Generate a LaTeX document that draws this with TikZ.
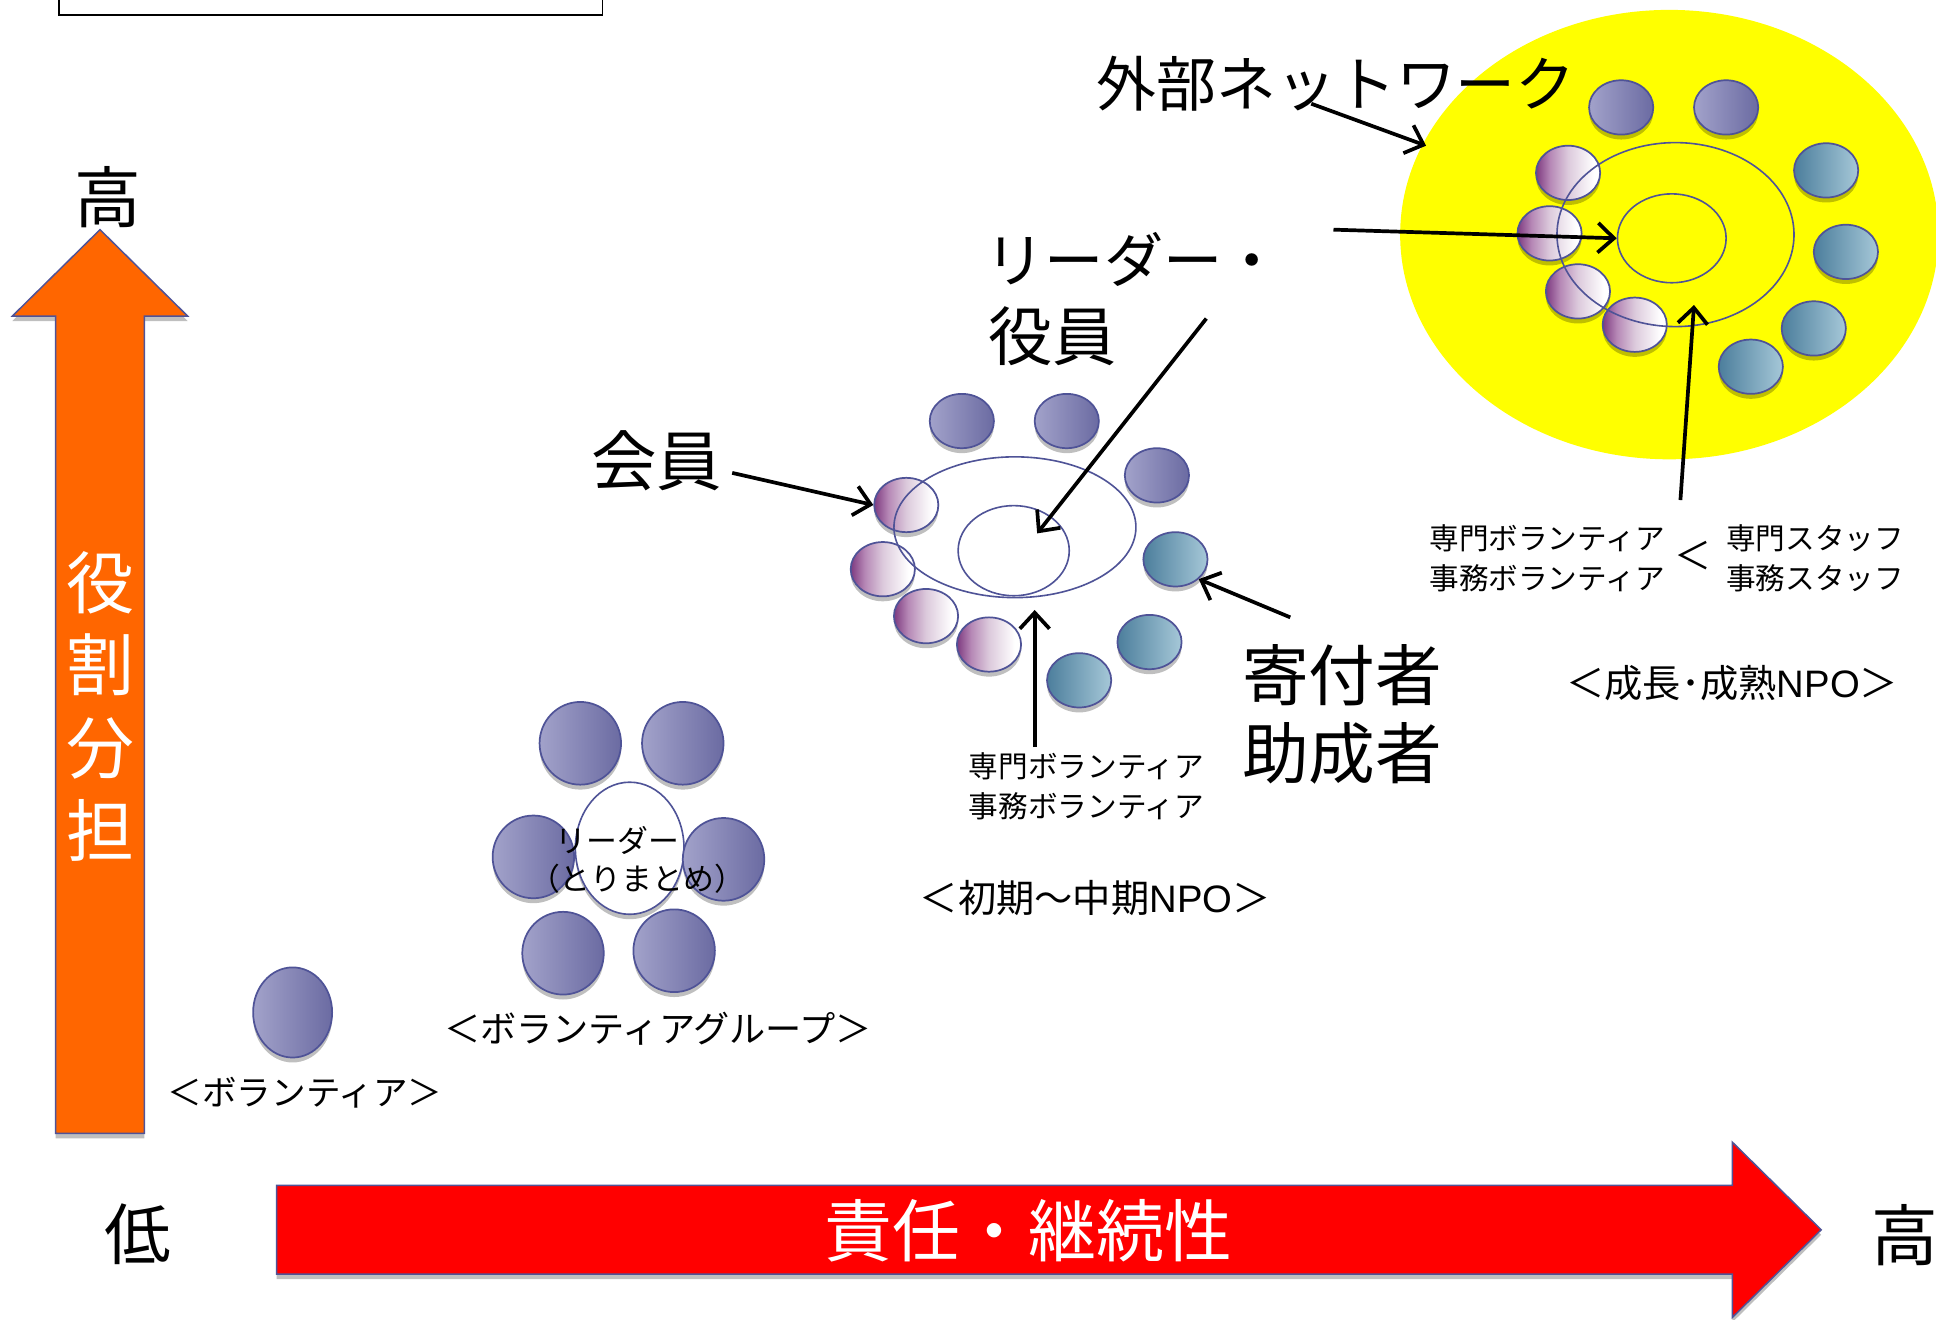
\documentclass[tikz,border=0pt]{standalone}
\usepackage{fontspec}
\setmainfont{Noto Sans CJK JP}
\newfontfamily\arialf{Liberation Sans}
\usetikzlibrary{shapes.geometric,arrows.meta,shadows}
\definecolor{edgec}{HTML}{4F5397}
\definecolor{bpL}{HTML}{A2A2CA}
\definecolor{bpR}{HTML}{6B6BA2}
\definecolor{pwL}{HTML}{7E3A80}
\definecolor{pwN}{HTML}{B688B6}
\definecolor{pwM}{HTML}{DCCADC}
\definecolor{tlL}{HTML}{4C7E9C}
\definecolor{tlR}{HTML}{A6C8D8}
\definecolor{orangeA}{HTML}{FF6600}
\definecolor{redA}{HTML}{FF0000}
\definecolor{yellowA}{HTML}{FFFF00}
\pgfdeclarehorizontalshading{pwshade}{100bp}{color(0bp)=(pwL); color(25bp)=(pwL); color(36bp)=(pwN); color(50bp)=(pwM); color(70bp)=(white); color(100bp)=(white)}
\tikzset{
  shad/.style={drop shadow={shadow xshift=0pt,shadow yshift=-4pt,opacity=0.25,fill=black}},
  circbase/.style={ellipse, inner sep=0pt, draw=edgec, line width=1.4pt, shad},
  bpc/.style={circbase, minimum width=52, minimum height=44, left color=bpL, right color=bpR},
  pwc/.style={circbase, minimum width=52, minimum height=44, shade, shading=pwshade},
  tlc/.style={circbase, minimum width=52, minimum height=44, left color=tlL, right color=tlR},
  bigc/.style={circbase, minimum width=66, minimum height=67, left color=bpL, right color=bpR},
  ring/.style={ellipse, inner sep=0pt, draw=edgec, line width=1.3pt},
  txt/.style={inner sep=0pt, font=\fontsize{#1}{#1}\selectfont},
  txt/.default=24,
  arr/.style={line width=3pt, -{Straight Barb[length=13pt,width=24pt,line width=3pt]}},
}
\begin{document}
\begin{tikzpicture}[x=1pt,y=-1pt]
\useasboundingbox (0,0) rectangle (1568,1069);
\clip (0,0) rectangle (1568,1069);
\fill[white] (0,0) rectangle (1568,1069);

% top box
\draw[line width=1.5pt] (48,-10) rectangle (488,12);

% vertical orange arrow
\path[fill=orangeA, draw=edgec, line width=1.2pt, shad]
  (45,918) -- (45,256) -- (10,256) -- (81,186) -- (152,256) -- (117,256) -- (117,918) -- cycle;
\node[txt=54] (hiV) at (87,160) {高};
\node[inner sep=0pt, text=white, align=center, font=\fontsize{55}{67}\selectfont] (yaku) at (81,572) {役\\割\\分\\担};

% horizontal red arrow
\path[fill=redA, draw=edgec, line width=1.2pt, shad]
  (224,960) -- (1403,960) -- (1403,925) -- (1475,996) -- (1403,1067) -- (1403,1032) -- (224,1032) -- cycle;
\node[txt=55, text=white] (resp) at (833,997) {責任・継続性};
\node[txt=54] (low) at (112,1000) {低};
\node[txt=54] (hiH) at (1543,1000) {高};

% single volunteer
\node[circbase, minimum width=64, minimum height=73, left color=bpL, right color=bpR] (vol) at (237,820) {};
\node[txt=28] (volL) at (247,885) {＜ボランティア＞};

% volunteer group
\node[bigc] (g1) at (470,602) {};
\node[bigc] (g2) at (553,602) {};
\node[bigc] (g3) at (432,694) {};
\node[bigc] (g5) at (456,772) {};
\node[bigc] (g6) at (546,770) {};
\node[ring, fill=white, minimum width=88, minimum height=107, shad] (gc) at (510,687) {};
\node[bigc] (g4) at (586,696) {};
\node[txt=25] (gl1) at (500,681) {リーダー};
\node[txt=25] (gl2) at (516,712) {（とりまとめ）};
\node[txt=29.3] (grpL) at (533,833) {＜ボランティアグループ＞};

% early-mid NPO
\node[bpc] (e1) at (779,341) {};
\node[bpc] (e2) at (864,341) {};
\node[bpc] (e3) at (937,385) {};
\node[pwc] (e4) at (734,409) {};
\node[pwc] (e5) at (715,461) {};
\node[pwc] (e6) at (750,499) {};
\node[pwc] (e7) at (801,522) {};
\node[tlc] (e8) at (952,453) {};
\node[tlc] (e9) at (931,520) {};
\node[tlc] (e10) at (874,551) {};
\node[ring, minimum width=196, minimum height=114] (eo) at (822,427) {};
\node[ring, minimum width=90, minimum height=73] (ei) at (821,446) {};
\coordinate (eiT) at (840,432);
\coordinate (eoB) at (838,494);

\node[txt=53] (kaiin) at (532,373) {会員};
\node[txt=48, anchor=west] (leader1) at (798,210) {リーダー・};
\node[txt=52, anchor=west] (leader2) at (800,272) {役員};
\coordinate (l2s) at (977,258);
\node[txt=54] (kifu1) at (1087,547) {寄付者};
\node[txt=54] (kifu2) at (1087,610) {助成者};
\node[txt=24, align=center] (esen) at (880,637) {専門ボランティア\\[8pt]事務ボランティア};
\node[txt=31] (earlyL) at (887,727) {＜初期～中期{\arialf NPO}＞};

\draw[arr] (593,383) -- (e4.west);
\draw[arr] (l2s) -- (eiT);
\draw[arr] (838,605) -- (eoB);
\draw[arr] (1045,500) -- (e8.south east);

% mature NPO
\fill[yellowA] (1352,190) ellipse [x radius=218, y radius=182];
\node[bpc] (m1) at (1313,87) {};
\node[bpc] (m2) at (1398,87) {};
\node[pwc] (m3) at (1270,140) {};
\node[pwc] (m4) at (1255,189) {};
\node[pwc] (m5) at (1278,236) {};
\node[pwc] (m6) at (1324,263) {};
\node[tlc] (m7) at (1479,138) {};
\node[tlc] (m8) at (1495,204) {};
\node[tlc] (m9) at (1469,266) {};
\node[tlc] (m10) at (1418,297) {};
\node[ring, minimum width=192, minimum height=149] (mo) at (1357,190) {};
\node[ring, minimum width=88, minimum height=72] (mi) at (1354,193) {};
\coordinate (ynet) at (1155,118);
\coordinate (moB) at (1372,247);

\node[txt=48.5, anchor=west] (net) at (888,68) {外部ネットワーク};
\node[txt=24, align=center] (msen) at (1253,452) {専門ボランティア\\[8pt]事務ボランティア};
\node[txt=30] (lt) at (1371,450) {＜};
\node[txt=24, align=center] (mstaff) at (1470,452) {専門スタッフ\\[8pt]事務スタッフ};
\node[txt=31] (matureL) at (1403,553) {＜成長･成熟{\arialf NPO}＞};

\draw[arr] (1062,84) -- (ynet);
\draw[arr] (1080,186) -- (mi.west);
\draw[arr] (1361,405) -- (moB);
\end{tikzpicture}
\end{document}
